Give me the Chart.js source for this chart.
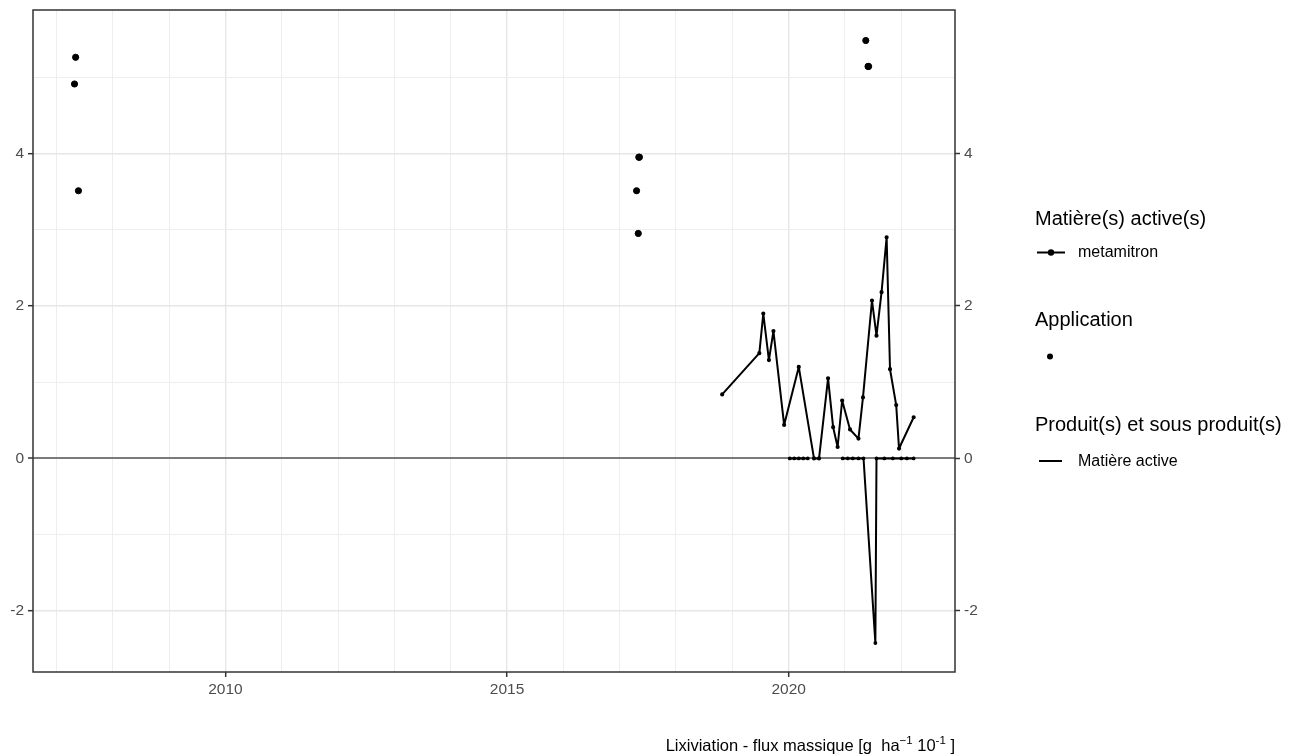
<!DOCTYPE html>
<html>
<head>
<meta charset="utf-8">
<script src="https://cdn.jsdelivr.net/npm/chart.js@4.4.1/dist/chart.umd.min.js"></script>
<style>
    body { margin: 0; background: #ffffff; }
    #wrap { width: 1305px; height: 756px; }
</style>
</head>
<body>
<div id="wrap"><canvas id="myChart" width="1305" height="756"></canvas></div>
<script>
// Flux de lixiviation de la matière active (années décimales et valeurs)
const leachDates = [2018.82, 2019.48, 2019.55, 2019.65, 2019.73, 2019.92, 2020.18, 2020.45, 2020.54, 2020.70,
    2020.79, 2020.87, 2020.95, 2021.09, 2021.24, 2021.32, 2021.48, 2021.56, 2021.65, 2021.74,
    2021.80, 2021.91, 2021.96, 2022.22];
const leachValues = [0.84, 1.38, 1.90, 1.29, 1.67, 0.44, 1.20, 0.00, 0.00, 1.05,
    0.41, 0.15, 0.76, 0.38, 0.26, 0.80, 2.07, 1.61, 2.18, 2.90,
    1.17, 0.70, 0.13, 0.54];

// Produit(s) et sous produit(s) : valeurs à zéro avec un pic négatif (null = interruption)
const productDates = [2020.02, 2020.10, 2020.18, 2020.26, 2020.34, 2020.60, 2020.96, 2021.05, 2021.14, 2021.24,
    2021.33, 2021.54, 2021.56, 2021.70, 2021.85, 2022.00, 2022.10, 2022.22];
const productValues = [0, 0, 0, 0, 0, null, 0, 0, 0, 0,
    0, -2.42, 0, 0, 0, 0, 0, 0];

// Dates d'application
const appDates = [2007.34, 2007.32, 2007.39, 2017.34, 2017.35, 2017.30, 2017.33, 2021.37, 2021.41, 2021.42];
const appValues = [5.26, 4.91, 3.51, 3.95, 3.95, 3.51, 2.95, 5.48, 5.14, 5.14];

// Graduations
const xYears = [2007, 2008, 2009, 2010, 2011, 2012, 2013, 2014, 2015, 2016, 2017, 2018, 2019, 2020, 2021, 2022];
const yLevels = [-2, -1, 0, 1, 2, 3, 4, 5];
const rightLevels = [-2, 0, 2, 4];

const FONT = '"Liberation Sans", Arial, sans-serif';

function toPoints(xs, ys) {
    return xs.map(function (x, i) { return { x: x, y: ys[i] }; });
}

// Cadre du panneau, légende et titre de l'axe
const decorations = {
    id: 'decorations',
    afterDatasetsDraw(chart) {
        const c = chart.ctx;
        const a = chart.chartArea;
        c.save();
        c.strokeStyle = '#333333';
        c.lineWidth = 1.5;
        c.strokeRect(a.left, a.top, a.right - a.left, a.bottom - a.top);
        c.restore();
    },
    afterDraw(chart) {
        const c = chart.ctx;
        const a = chart.chartArea;
        c.save();
        c.fillStyle = '#000000';
        c.strokeStyle = '#000000';

        // légende
        c.textAlign = 'left';
        c.textBaseline = 'alphabetic';
        c.font = '20px ' + FONT;
        c.fillText('Matière(s) active(s)', 1035, 224.5);
        c.fillText('Application', 1035, 326);
        c.fillText('Produit(s) et sous produit(s)', 1035, 430.5);

        c.lineWidth = 2;
        c.beginPath();
        c.moveTo(1037, 252.5);
        c.lineTo(1065, 252.5);
        c.stroke();
        c.beginPath();
        c.arc(1051, 252.5, 3.2, 0, Math.PI * 2);
        c.fill();

        c.beginPath();
        c.arc(1050, 356.5, 3, 0, Math.PI * 2);
        c.fill();

        c.beginPath();
        c.moveTo(1039, 461);
        c.lineTo(1062, 461);
        c.stroke();

        c.font = '16px ' + FONT;
        c.textBaseline = 'middle';
        c.fillText('metamitron', 1078, 253);
        c.fillText('Matière active', 1078, 462);

        // titre de l'axe x, aligné à droite du panneau
        const parts = [
            { t: 'Lixiviation - flux massique [g  ha', sup: false },
            { t: '\u22121', sup: true },
            { t: ' 10', sup: false },
            { t: '-1', sup: true },
            { t: ' ]', sup: false }
        ];
        const base = 751;
        let total = 0;
        parts.forEach(function (p) {
            c.font = (p.sup ? '11.5px ' : '16.5px ') + FONT;
            p.w = c.measureText(p.t).width;
            total += p.w;
        });
        let x = a.right - total;
        c.textBaseline = 'alphabetic';
        parts.forEach(function (p) {
            c.font = (p.sup ? '11.5px ' : '16.5px ') + FONT;
            c.fillText(p.t, x, p.sup ? base - 7 : base);
            x += p.w;
        });
        c.restore();
    }
};

// les axes ne réservent pas de marge pour leurs étiquettes extrêmes
function noEdgePadding(scale) {
    scale.paddingTop = 0;
    scale.paddingBottom = 0;
    scale.paddingLeft = 0;
    scale.paddingRight = 0;
}

var ctx = document.getElementById('myChart').getContext('2d');
var chart = new Chart(ctx, {
    type: 'line',
    data: {
        datasets: [{
            label: 'metamitron',
            data: toPoints(leachDates, leachValues),
            borderColor: '#000000',
            backgroundColor: '#000000',
            borderWidth: 2,
            borderJoinStyle: 'round',
            pointRadius: 1.1,
            pointHoverRadius: 1.1,
            tension: 0,
            yAxisID: 'y'
        }, {
            label: 'Matière active',
            data: toPoints(productDates, productValues),
            borderColor: '#000000',
            backgroundColor: '#000000',
            borderWidth: 2,
            borderJoinStyle: 'round',
            pointRadius: 0.9,
            pointHoverRadius: 0.9,
            tension: 0,
            spanGaps: false,
            yAxisID: 'y'
        }, {
            label: 'Application',
            type: 'scatter',
            data: toPoints(appDates, appValues),
            borderColor: '#000000',
            backgroundColor: '#000000',
            pointRadius: 3.1,
            pointHoverRadius: 3.1,
            showLine: false,
            yAxisID: 'y'
        }]
    },
    options: {
        responsive: false,
        animation: false,
        devicePixelRatio: 1,
        layout: { padding: { top: 10, left: 0, right: 0, bottom: 0 } },
        plugins: {
            legend: { display: false },
            tooltip: { enabled: false }
        },
        scales: {
            x: {
                type: 'linear',
                min: 2006.583,
                max: 2022.954,
                afterBuildTicks: function (scale) {
                    scale.ticks = xYears.map(function (v) { return { value: v }; });
                },
                afterFit: function (scale) { scale.height = 84; noEdgePadding(scale); },
                border: { display: false },
                grid: {
                    color: function (c) { return c.tick && c.tick.value % 5 === 0 ? '#e6e6e6' : '#eeeeee'; },
                    lineWidth: function (c) { return c.tick && c.tick.value % 5 === 0 ? 1.4 : 1; },
                    tickColor: function (c) { return c.tick && c.tick.value % 5 === 0 ? '#333333' : 'rgba(0,0,0,0)'; },
                    tickWidth: 1.5,
                    tickLength: 5
                },
                ticks: {
                    autoSkip: false,
                    maxRotation: 0,
                    padding: 3,
                    color: '#4d4d4d',
                    font: { family: FONT, size: 15.5 },
                    callback: function (v) { return v % 5 === 0 ? String(v) : ''; }
                }
            },
            y: {
                position: 'left',
                min: -2.80,
                max: 5.88,
                afterBuildTicks: function (scale) {
                    scale.ticks = yLevels.map(function (v) { return { value: v }; });
                },
                afterFit: function (scale) { scale.width = 33; noEdgePadding(scale); },
                border: { display: false },
                grid: {
                    color: function (c) {
                        if (!c.tick) return '#eeeeee';
                        if (c.tick.value === 0) return '#7a7a7a';
                        return c.tick.value % 2 === 0 ? '#e6e6e6' : '#eeeeee';
                    },
                    lineWidth: function (c) {
                        if (!c.tick) return 1;
                        if (c.tick.value === 0) return 2;
                        return c.tick.value % 2 === 0 ? 1.4 : 1;
                    },
                    tickColor: function (c) { return c.tick && c.tick.value % 2 === 0 ? '#333333' : 'rgba(0,0,0,0)'; },
                    tickWidth: 1.5,
                    tickLength: 5
                },
                ticks: {
                    autoSkip: false,
                    padding: 4,
                    color: '#4d4d4d',
                    font: { family: FONT, size: 15.5 },
                    callback: function (v) { return v % 2 === 0 ? String(v) : ''; }
                }
            },
            y2: {
                position: 'right',
                min: -2.80,
                max: 5.88,
                afterBuildTicks: function (scale) {
                    scale.ticks = rightLevels.map(function (v) { return { value: v }; });
                },
                afterFit: function (scale) { scale.width = 350; noEdgePadding(scale); },
                border: { display: false },
                grid: {
                    drawOnChartArea: false,
                    tickColor: '#333333',
                    tickWidth: 1.5,
                    tickLength: 5
                },
                ticks: {
                    autoSkip: false,
                    padding: 4,
                    color: '#4d4d4d',
                    font: { family: FONT, size: 15.5 },
                    callback: function (v) { return String(v); }
                }
            }
        }
    },
    plugins: [decorations]
});
</script>
</body>
</html>
